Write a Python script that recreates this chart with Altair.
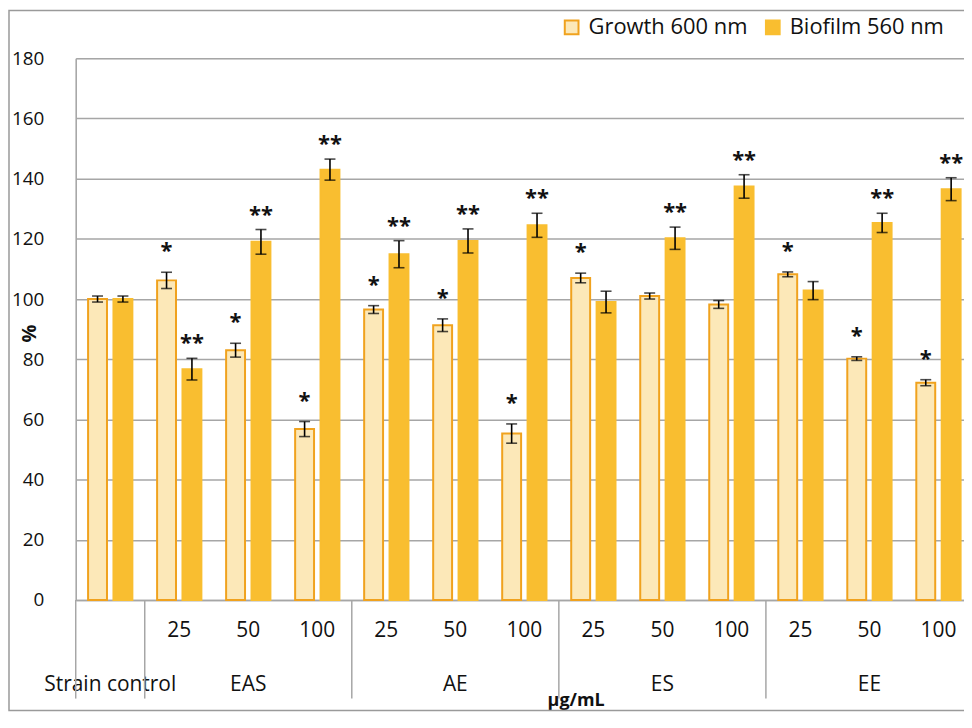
import altair as alt
import pandas as pd

# ---------------- data ----------------
categories = [str(i) for i in range(13)]
conc_labels = ["", "25", "50", "100", "25", "50", "100", "25", "50", "100", "25", "50", "100"]
group_names = ["Strain control", "EAS", "AE", "ES", "EE"]
group_center_cat = ["0", "2", "5", "8", "11"]
separator_cat = ["0", "1", "4", "7", "10"]
series_names = ["Growth 600 nm", "Biofilm 560 nm"]

growth = [100.0, 106.2, 83.0, 56.8, 96.5, 91.3, 55.3, 107.0, 101.0, 98.2, 108.2, 80.2, 72.2]
growth_err = [1.0, 2.7, 2.3, 2.5, 1.3, 2.1, 3.2, 1.6, 1.0, 1.3, 0.8, 0.6, 1.0]
biofilm = [100.0, 76.7, 119.0, 143.0, 114.9, 119.3, 124.5, 99.0, 120.2, 137.4, 102.8, 125.3, 136.5]
biofilm_err = [1.0, 3.6, 4.1, 3.5, 4.5, 4.0, 4.0, 3.6, 3.7, 3.9, 3.0, 3.2, 3.8]
growth_sig = ["", "*", "*", "*", "*", "*", "*", "*", "", "", "*", "*", "*"]
biofilm_sig = ["", "**", "**", "**", "**", "**", "**", "", "**", "**", "", "**", "**"]

rows = []
for i, c in enumerate(categories):
    rows.append(dict(cat=c, series=series_names[0], value=growth[i],
                     lo=growth[i] - growth_err[i], hi=growth[i] + growth_err[i], sig=growth_sig[i]))
    rows.append(dict(cat=c, series=series_names[1], value=biofilm[i],
                     lo=biofilm[i] - biofilm_err[i], hi=biofilm[i] + biofilm_err[i], sig=biofilm_sig[i]))
df = pd.DataFrame(rows)
groups_df = pd.DataFrame({"cat": group_center_cat, "name": group_names})
sep_df = pd.DataFrame({"cat": separator_cat})

# ---------------- style ----------------
FONT = "Open Sans"
BIO = "#F9BE30"
GROWTH_FILL = "#FCE8B8"
GROWTH_STROKE = "#F0A21E"
GRID = "#A6A6A6"
W, H = 892, 544

label_expr = "[" + ",".join("'" + s + "'" for s in conc_labels) + "][toNumber(datum.value)]"

x_scale = alt.Scale(domain=categories, range=[0, 901], paddingInner=0, paddingOuter=0)
x_enc = alt.X("cat:N", scale=x_scale, sort=categories,
              axis=alt.Axis(title="μg/mL", labelExpr=label_expr, labelAngle=0,
                            labelFontSize=21, labelFont=FONT, labelColor="#111",
                            labelPadding=31, labelBaseline="middle", labelOverlap=False,
                            ticks=False, tickSize=0, domain=True, domainColor=GRID,
                            domainWidth=1.5, grid=False,
                            titleFont=FONT, titleFontSize=18, titleFontWeight="bold",
                            titleColor="#111", titleX=502, titleY=101,
                            titleAnchor="start", titleAlign="center", titleBaseline="middle"))
legend_cfg = dict(title=None, orient="none", legendX=487, legendY=-42,
                  direction="horizontal", symbolType="square",
                  symbolSize=190, symbolStrokeWidth=2,
                  labelFont=FONT, labelFontSize=22, labelColor="#111",
                  labelOffset=6, columnPadding=14, padding=0)
xoff = alt.XOffset("series:N", sort=series_names,
                   scale=alt.Scale(domain=series_names, paddingInner=0.255, paddingOuter=0.487))
y_scale = alt.Scale(domain=[0, 180], nice=False, zero=True)
y_enc = alt.Y("value:Q", scale=y_scale,
              axis=alt.Axis(title="%", values=list(range(0, 181, 20)), grid=True,
                            gridColor=GRID, gridWidth=1.5, domain=True, domainColor=GRID,
                            domainWidth=1.5, ticks=False, tickSize=0,
                            labelFont=FONT, labelFontSize=19, labelColor="#111",
                            labelPadding=32,
                            titleFont=FONT, titleFontSize=20, titleFontWeight="bold",
                            titleColor="#111", titleAngle=-90, titleX=-46, titleY=276,
                            titleAlign="center", titleBaseline="middle"))

base = alt.Chart(df)

bars = base.mark_bar(strokeWidth=2).encode(
    x=x_enc, xOffset=xoff, y=y_enc,
    color=alt.Color("series:N", sort=series_names,
                    scale=alt.Scale(domain=series_names, range=[GROWTH_FILL, BIO]),
                    legend=alt.Legend(**legend_cfg)),
    stroke=alt.Stroke("series:N", sort=series_names,
                      scale=alt.Scale(domain=series_names, range=[GROWTH_STROKE, BIO]),
                      legend=alt.Legend(**legend_cfg)),
)

err = base.mark_rule(color="black", strokeWidth=1.6).encode(
    x=alt.X("cat:N"), xOffset=xoff, y=alt.Y("lo:Q"), y2="hi:Q")
cap_lo = base.mark_tick(color="black", size=11, thickness=1.6).encode(
    x=alt.X("cat:N"), xOffset=xoff, y=alt.Y("lo:Q"))
cap_hi = base.mark_tick(color="black", size=11, thickness=1.6).encode(
    x=alt.X("cat:N"), xOffset=xoff, y=alt.Y("hi:Q"))

star1 = base.transform_filter("datum.sig == '*'").mark_text(
    font=FONT, fontSize=22, fontWeight="bold", color="#111", baseline="middle", dy=-21
).encode(x=alt.X("cat:N"), xOffset=xoff, y=alt.Y("hi:Q"), text="sig:N")
star2 = base.transform_filter("datum.sig == '**'").mark_text(
    font=FONT, fontSize=22, fontWeight="bold", color="#111", baseline="middle", dy=-15
).encode(x=alt.X("cat:N"), xOffset=xoff, y=alt.Y("hi:Q"), text="sig:N")

group_text = alt.Chart(groups_df).mark_text(
    font=FONT, fontSize=21, color="#111", baseline="middle"
).encode(x=alt.X("cat:N"), y=alt.value(H + 85), text="name:N")

seps = alt.Chart(sep_df).mark_rule(color=GRID, strokeWidth=1.5).encode(
    x=alt.X("cat:N", bandPosition=0), y=alt.value(H), y2=alt.value(H + 99))

border = alt.Chart(pd.DataFrame({"k": [0]})).mark_rect(
    fill=None, stroke="#9A9A9A", strokeWidth=1.5
).encode(x=alt.value(-67), x2=alt.value(W + 40), y=alt.value(-48), y2=alt.value(H + 111))

chart = alt.layer(border, bars, err, cap_lo, cap_hi, star1, star2, group_text, seps).properties(
    width=W, height=H,
    padding={"left": 68, "top": 49, "right": 0, "bottom": 112},
    autosize=alt.AutoSizeParams(type="none"),
).configure_view(stroke=None).configure(background="white")

chart.save("out.html", embed_options={"renderer": "svg", "actions": False})
